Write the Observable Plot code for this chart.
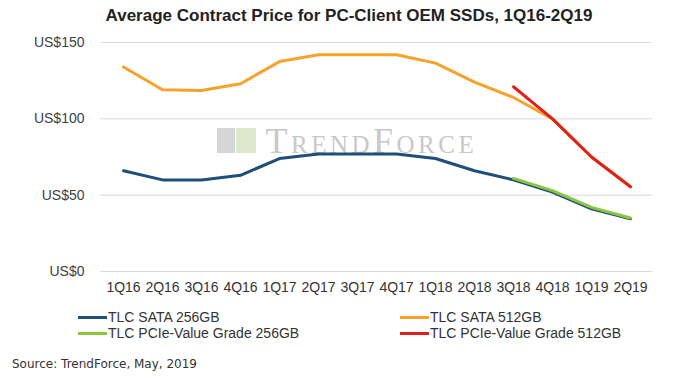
<!DOCTYPE html>
<html>
<head>
<meta charset="utf-8">
<script src="https://cdn.jsdelivr.net/npm/d3@7"></script>
<script src="https://cdn.jsdelivr.net/npm/@observablehq/plot@0.6"></script>
<style>
  html, body { margin: 0; padding: 0; background: #fff; }
  #wrap { position: relative; width: 689px; height: 380px; overflow: hidden; background: #fff; font-family: "Liberation Sans", Arial, sans-serif; }
  #chart { position: absolute; left: 0; top: 0; }
  .title { position: absolute; left: 0; width: 698px; top: 6px; text-align: center; font-weight: bold; font-size: 17px; color: #222; }
  .leg { position: absolute; font-size: 14px; color: #333; line-height: 16px; white-space: nowrap; }
  .sw { display: inline-block; width: 29px; height: 3px; vertical-align: middle; margin-right: 1px; position: relative; top: -1px; }
  .src { position: absolute; left: 12px; top: 357px; font-family: "DejaVu Sans", sans-serif; font-size: 12px; color: #333; }
</style>
</head>
<body>
<div id="wrap">
  <div id="chart"></div>
  <div class="title">Average Contract Price for PC-Client OEM SSDs, 1Q16-2Q19</div>
  <div id="legend"></div>
  <div class="src">Source: TrendForce, May, 2019</div>
</div>
<script>
const quarters = ["1Q16","2Q16","3Q16","4Q16","1Q17","2Q17","3Q17","4Q17","1Q18","2Q18","3Q18","4Q18","1Q19","2Q19"];
const seriesNames = ["TLC SATA 256GB","TLC SATA 512GB","TLC PCIe-Value Grade 256GB","TLC PCIe-Value Grade 512GB"];
const seriesColors = ["#1f4e79","#f6a22b","#8cc63f","#e0201b"];
const sata256 = [66,60,60,63,74,77,77,77,74,66,60,52,41,34.5];
const sata512 = [134,119,118.5,123,137.5,142,142,142,136.5,124,114,100,75,55.5];
const pcieQuarters = ["3Q18","4Q18","1Q19","2Q19"];
const pcie256 = [61,53,42,35];
const pcie512 = [121,100,75,55.5];
const yTicks = [0,50,100,150];

const rows = (qs, vals) => qs.map((q, i) => ({q, v: vals[i]}));

const chart = Plot.plot({
  width: 689,
  height: 300,
  marginLeft: 100,
  marginRight: 37,
  marginTop: 42,
  marginBottom: 29,
  style: {fontFamily: "'Liberation Sans', Arial, sans-serif", fontSize: "13px", color: "#404040", background: "transparent", overflow: "visible"},
  x: {type: "point", domain: quarters, padding: 0.5},
  y: {domain: [0, 150]},
  marks: [
    Plot.gridY(yTicks, {stroke: "#d9d9d9", strokeOpacity: 1, strokeWidth: 1}),
    Plot.text(["TrendForce"], {frameAnchor: "top-left", dx: 165, dy: 110, text: d => d, fontFamily: "'Liberation Serif', serif", fontSize: 36, fontVariant: "small-caps", fill: "#c8c8c8", textAnchor: "start", lineAnchor: "bottom", className: "wm"}),
    Plot.axisY(yTicks, {tickSize: 0, tickPadding: 16, fontSize: 14, fill: "#404040", tickFormat: d => "US$" + d, label: null}),
    Plot.axisX({tickSize: 0, tickPadding: 11, fontSize: 14, fill: "#333", label: null}),
    Plot.line(rows(quarters, sata512), {x: "q", y: "v", stroke: seriesColors[1], strokeWidth: 3}),
    Plot.line(rows(quarters, sata256), {x: "q", y: "v", stroke: seriesColors[0], strokeWidth: 3}),
    Plot.line(rows(pcieQuarters, pcie256), {x: "q", y: "v", stroke: seriesColors[2], strokeWidth: 3}),
    Plot.line(rows(pcieQuarters, pcie512), {x: "q", y: "v", stroke: seriesColors[3], strokeWidth: 3})
  ]
});
chart.querySelectorAll(".wm text").forEach(t => t.setAttribute("letter-spacing", "3.5"));
document.getElementById("chart").appendChild(chart);

// watermark logo blocks (decoration)
const wrap = document.getElementById("wrap");
const logo = [[217,128,18,25,"#d6d6d6"],[236,128,20,25,"#dbe8cc"]];
for (const [l,t,w,h,c] of logo) {
  const d = document.createElement("div");
  Object.assign(d.style, {position:"absolute", left:l+"px", top:t+"px", width:w+"px", height:h+"px", background:c});
  wrap.insertBefore(d, wrap.firstChild);
}

// legend
const legPos = [[78,309],[400,309],[78,325],[400,325]];
const legend = document.getElementById("legend");
seriesNames.forEach((name, s) => {
  const d = document.createElement("div");
  d.className = "leg";
  d.style.left = legPos[s][0] + "px";
  d.style.top = legPos[s][1] + "px";
  d.innerHTML = `<span class="sw" style="background:${seriesColors[s]}"></span>${name}`;
  legend.appendChild(d);
});
</script>
</body>
</html>
